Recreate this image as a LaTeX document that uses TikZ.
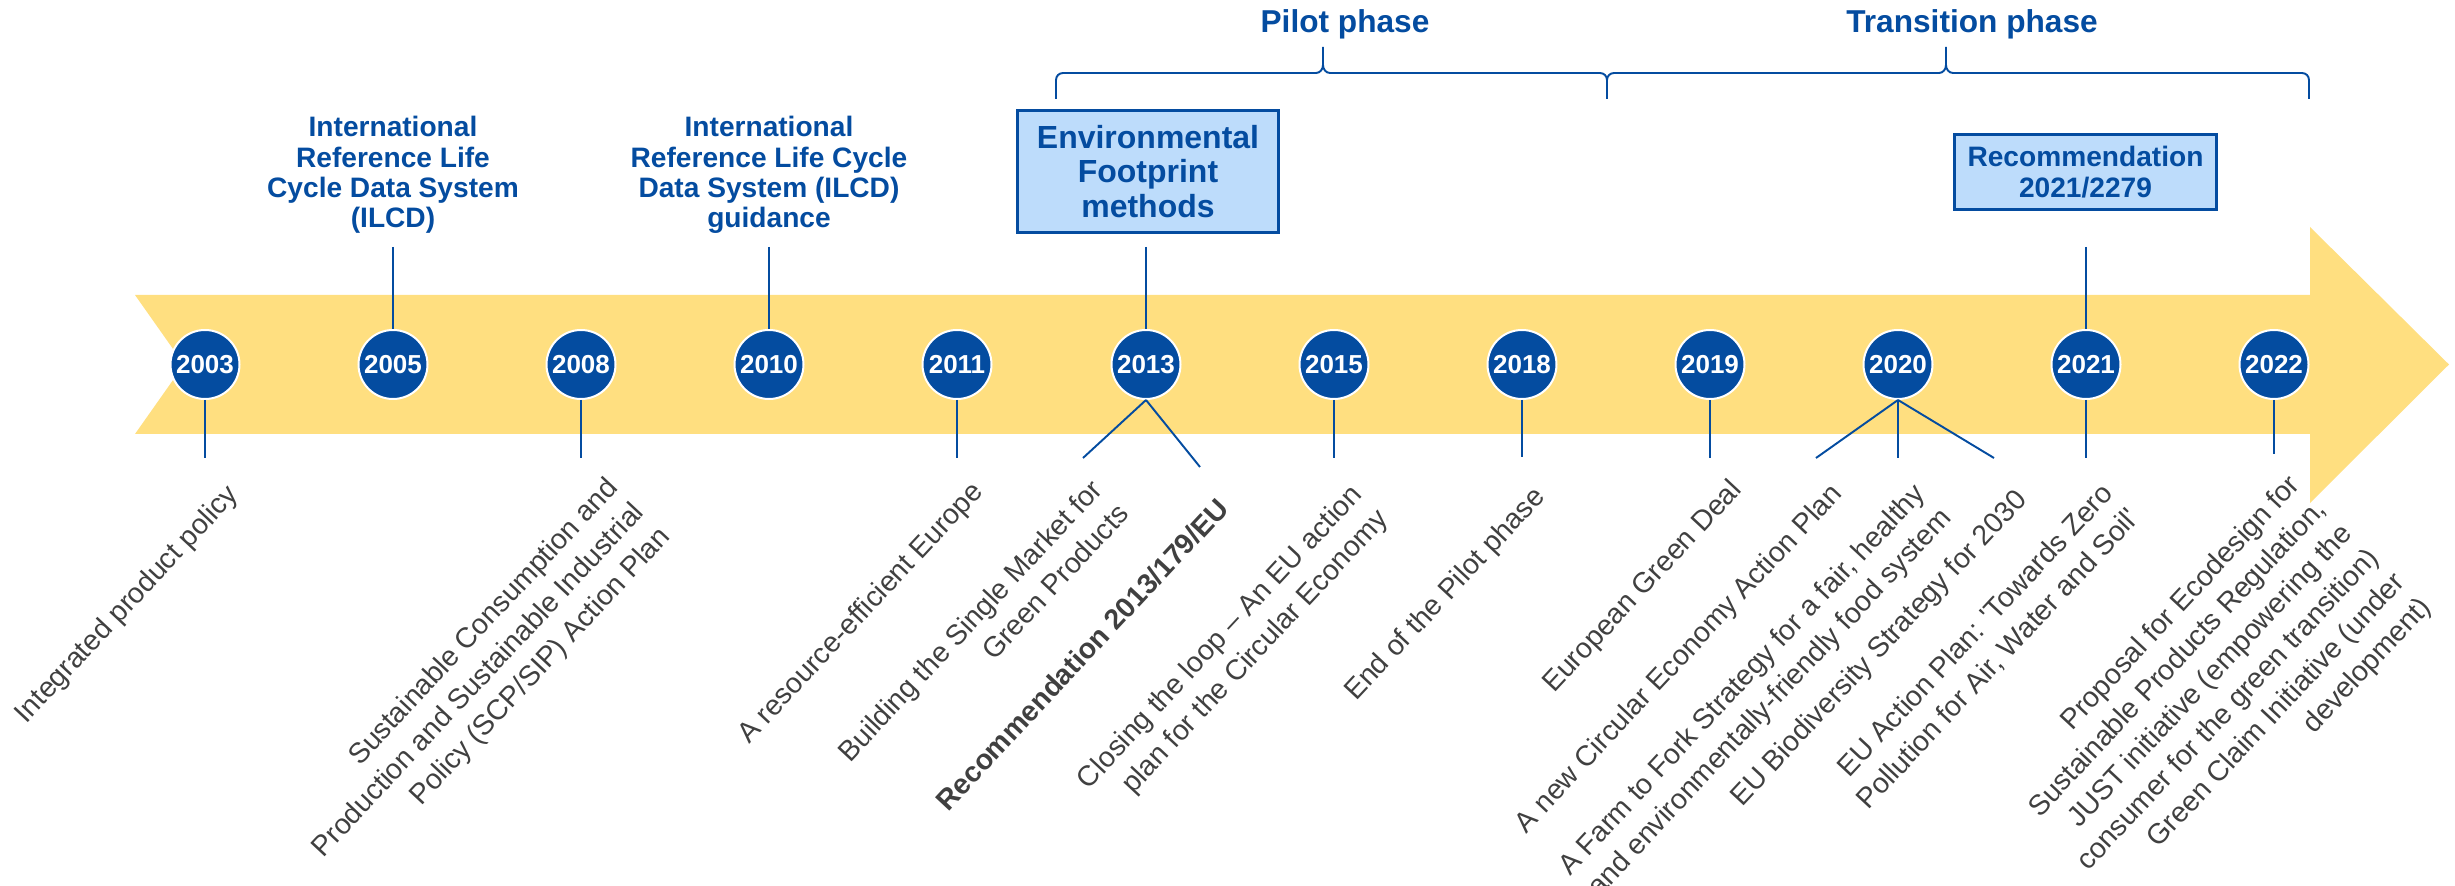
\documentclass[tikz,border=0pt]{standalone}
\usepackage{fontspec}
\setmainfont{Liberation Sans}
\usetikzlibrary{positioning,calc}
\definecolor{eublue}{RGB}{4,76,160}
\definecolor{bandyellow}{RGB}{255,223,128}
\definecolor{boxblue}{RGB}{189,220,251}
\definecolor{textgrey}{RGB}{64,64,64}

\begin{document}
\begin{tikzpicture}[
         year/.style = {circle,fill=eublue,draw=white,line width=0.02cm,
            minimum size=0.69cm,inner sep=0pt,text=white,
            font=\bfseries\fontsize{7.4}{8}\selectfont},
         link/.style = {draw=eublue,line width=0.55pt},
         toplabel/.style = {align=center,text=eublue,inner sep=0pt,
            font=\bfseries\fontsize{8}{8.6}\selectfont},
         milestone/.style = {draw=eublue,line width=0.8pt,fill=boxblue,
            align=center,text=eublue,inner sep=0pt},
         phase/.style = {anchor=base,text=eublue,inner sep=0pt,
            font=\bfseries\fontsize{9}{10}\selectfont},
         event/.style = {anchor=north east,rotate=47,align=right,
            text=textgrey,inner sep=0pt,font=\fontsize{8.1}{10.2}\selectfont}
]
      \useasboundingbox (0,0) rectangle (24.55,8.86);

      \fill[bandyellow] (1.35,5.91) -- (23.10,5.91) -- (23.10,6.59)
         -- (24.49,5.215) -- (23.10,3.83) -- (23.10,4.52) -- (1.35,4.52)
         -- (1.84,5.215) -- cycle;

      \node[year] (y2003) at ( 2.05,5.215) {2003};
      \node[year] (y2005) at ( 3.93,5.215) {2005};
      \node[year] (y2008) at ( 5.81,5.215) {2008};
      \node[year] (y2010) at ( 7.69,5.215) {2010};
      \node[year] (y2011) at ( 9.57,5.215) {2011};
      \node[year] (y2013) at (11.46,5.215) {2013};
      \node[year] (y2015) at (13.34,5.215) {2015};
      \node[year] (y2018) at (15.22,5.215) {2018};
      \node[year] (y2019) at (17.10,5.215) {2019};
      \node[year] (y2020) at (18.98,5.215) {2020};
      \node[year] (y2021) at (20.86,5.215) {2021};
      \node[year] (y2022) at (22.74,5.215) {2022};

      \node[toplabel] (ilcd) at (3.93,7.11)
         {International\\Reference Life\\Cycle Data System\\(ILCD)};
      \node[toplabel] (ilcdguide) at (7.69,7.11)
         {International\\Reference Life Cycle\\Data System (ILCD)\\guidance};
      \node[milestone,minimum width=2.61cm,minimum height=1.22cm,
         font=\bfseries\fontsize{9.1}{9.8}\selectfont] (ef) at (11.48,7.145)
         {Environmental\\Footprint\\methods};
      \node[milestone,minimum width=2.62cm,minimum height=0.75cm,
         font=\bfseries\fontsize{8}{8.6}\selectfont] (rec2021) at (20.855,7.14)
         {Recommendation\\2021/2279};

      \node[phase] (pilot) at (13.45,8.53) {Pilot phase};
      \node[phase] (transition) at (19.72,8.53) {Transition phase};

      \coordinate (bp0) at (10.56,7.87);
      \coordinate (bp1) at (13.23,8.39);
      \coordinate (bp2) at (16.07,7.87);
      \coordinate (bt1) at (19.46,8.39);
      \coordinate (bt2) at (23.09,7.87);
      \draw[link] (bp0) -- ++(0,0.19) to[out=90,in=180] ++(0.07,0.07)
         -- ($(bp1)+(-0.07,-0.26)$) to[out=0,in=-90] ($(bp1)+(0,-0.18)$) -- (bp1)
         ($(bp1)+(0,-0.18)$) to[out=-90,in=180] ($(bp1)+(0.07,-0.26)$)
         -- ($(bp2)+(-0.07,0.26)$) to[out=0,in=90] ($(bp2)+(0,0.19)$) -- (bp2);
      \draw[link] ($(bp2)+(0,0.19)$) to[out=90,in=180] ($(bp2)+(0.07,0.26)$)
         -- ($(bt1)+(-0.07,-0.26)$) to[out=0,in=-90] ($(bt1)+(0,-0.18)$) -- (bt1)
         ($(bt1)+(0,-0.18)$) to[out=-90,in=180] ($(bt1)+(0.07,-0.26)$)
         -- ($(bt2)+(-0.07,0.26)$) to[out=0,in=90] ($(bt2)+(0,0.19)$) -- (bt2);

      \coordinate (t2005) at ( 3.93,6.39);
      \coordinate (t2010) at ( 7.69,6.39);
      \coordinate (t2013) at (11.46,6.39);
      \coordinate (t2021) at (20.86,6.39);
      \draw[link] (t2005) -- (y2005);
      \draw[link] (t2010) -- (y2010);
      \draw[link] (t2013) -- (y2013);
      \draw[link] (t2021) -- (y2021);

      \coordinate (b2003) at ( 2.05,4.28);
      \coordinate (b2008) at ( 5.81,4.28);
      \coordinate (b2011) at ( 9.57,4.28);
      \coordinate (b2013l) at (10.83,4.28);
      \coordinate (b2013r) at (12.00,4.19);
      \coordinate (b2015) at (13.34,4.28);
      \coordinate (b2018) at (15.22,4.29);
      \coordinate (b2019) at (17.10,4.28);
      \coordinate (b2020l) at (18.16,4.28);
      \coordinate (b2020m) at (18.98,4.28);
      \coordinate (b2020r) at (19.94,4.28);
      \coordinate (b2021) at (20.86,4.28);
      \coordinate (b2022) at (22.74,4.32);
      \draw[link] (y2003) -- (b2003);
      \draw[link] (y2008) -- (b2008);
      \draw[link] (y2011) -- (b2011);
      \draw[link] (y2013.south) -- (b2013l);
      \draw[link] (y2013.south) -- (b2013r);
      \draw[link] (y2015) -- (b2015);
      \draw[link] (y2018) -- (b2018);
      \draw[link] (y2019) -- (b2019);
      \draw[link] (y2020.south) -- (b2020l);
      \draw[link] (y2020.south) -- (b2020m);
      \draw[link] (y2020.south) -- (b2020r);
      \draw[link] (y2021) -- (b2021);
      \draw[link] (y2022) -- (b2022);

      \node[event] (ipp) at (2.24,4.05) {Integrated product policy};
      \node[event] (scp) at (6.04,4.12) {Sustainable Consumption and\\
         Production and Sustainable Industrial\\Policy (SCP/SIP) Action Plan};
      \node[event] (ree) at (9.69,4.08) {A resource-efficient Europe};
      \node[event] (smgp) at (10.89,4.10) {Building the Single Market for\\
         Green Products};
      \node[event,font=\bfseries\fontsize{8.1}{10.2}\selectfont] (rec2013)
         at (12.15,3.91) {Recommendation 2013/179/EU};
      \node[event] (loop) at (13.48,4.05) {Closing the loop -- An EU action\\
         plan for the Circular Economy};
      \node[event] (endpilot) at (15.31,4.03) {End of the Pilot phase};
      \node[event] (egd) at (17.28,4.10) {European Green Deal};
      \node[event] (ceap) at (18.28,4.06) {A new Circular Economy Action Plan};
      \node[event] (f2f) at (19.11,4.06) {A Farm to Fork Strategy for a fair, healthy\\
         and environmentally-friendly food system};
      \node[event] (bio) at (20.13,4.00) {EU Biodiversity Strategy for 2030};
      \node[event] (zero) at (20.99,4.06) {EU Action Plan: \textquotesingle Towards Zero\\
         Pollution for Air, Water and Soil\textquotesingle};
      \node[event] (espr) at (22.86,4.15) {Proposal for Ecodesign for\\
         Sustainable Products Regulation,\\JUST initiative (empowering the\\
         consumer for the green transition)\\Green Claim Initiative (under\\
         development)};
   \end{tikzpicture}
\end{document}
